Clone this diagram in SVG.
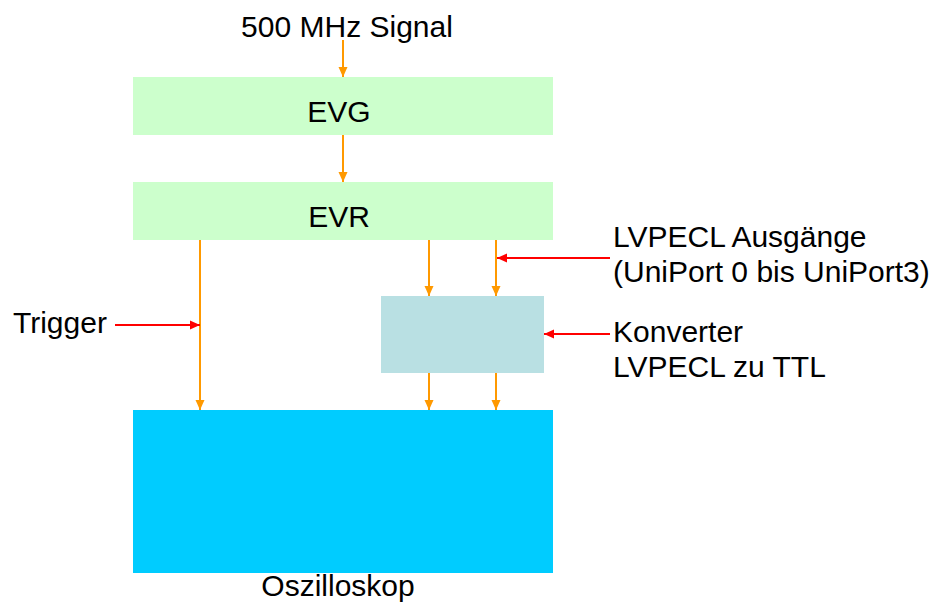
<svg xmlns="http://www.w3.org/2000/svg" width="941" height="603" viewBox="0 0 941 603">
<style>
text{font-family:"Liberation Sans",Arial,sans-serif;font-size:30px;fill:#000}
.o{stroke:#ff9900;stroke-width:2;fill:none}
.r{stroke:#ff0000;stroke-width:2;fill:none}
</style>
<defs>
<marker id="ao" markerUnits="userSpaceOnUse" markerWidth="10" markerHeight="10" viewBox="0 0 10 10" refX="10" refY="5" orient="auto"><path d="M0,0.5 L10,5 L0,9.5 Z" fill="#ff9900"/></marker>
<marker id="ar" markerUnits="userSpaceOnUse" markerWidth="10" markerHeight="10" viewBox="0 0 10 10" refX="10" refY="5" orient="auto"><path d="M0,0.5 L10,5 L0,9.5 Z" fill="#ff0000"/></marker>
</defs>
<rect width="941" height="603" fill="#fff"/>
<g id="evg"><rect x="133" y="77" width="420" height="58" fill="#ccffcc"/><text x="339" y="122" text-anchor="middle">EVG</text></g>
<g id="evr"><rect x="133" y="182" width="420" height="58" fill="#ccffcc"/><text x="339" y="227" text-anchor="middle">EVR</text></g>
<g id="konverter"><rect x="381" y="296" width="163" height="77" fill="#b9e0e3"/></g>
<g id="oszilloskop"><rect x="133" y="410" width="420" height="163" fill="#00ccff"/><text x="338" y="596" text-anchor="middle">Oszilloskop</text></g>
<g id="labels">
<text x="347" y="37" text-anchor="middle">500 MHz Signal</text>
<text x="13" y="333">Trigger</text>
<text x="613" y="247">LVPECL Ausgänge</text>
<text x="613" y="282">(UniPort 0 bis UniPort3)</text>
<text x="613" y="342">Konverter</text>
<text x="613" y="377">LVPECL zu TTL</text>
</g>
<g id="connectors">
<line class="o" x1="343" y1="40" x2="343" y2="77" marker-end="url(#ao)"/>
<line class="o" x1="343" y1="135" x2="343" y2="182" marker-end="url(#ao)"/>
<line class="o" x1="200" y1="240" x2="200" y2="410" marker-end="url(#ao)"/>
<line class="o" x1="429" y1="240" x2="429" y2="296" marker-end="url(#ao)"/>
<line class="o" x1="496" y1="240" x2="496" y2="296" marker-end="url(#ao)"/>
<line class="o" x1="429" y1="373" x2="429" y2="410" marker-end="url(#ao)"/>
<line class="o" x1="496" y1="373" x2="496" y2="410" marker-end="url(#ao)"/>
<line class="r" x1="115" y1="325" x2="200" y2="325" marker-end="url(#ar)"/>
<line class="r" x1="610" y1="258" x2="497" y2="258" marker-end="url(#ar)"/>
<line class="r" x1="610" y1="334" x2="544" y2="334" marker-end="url(#ar)"/>
</g>
</svg>
